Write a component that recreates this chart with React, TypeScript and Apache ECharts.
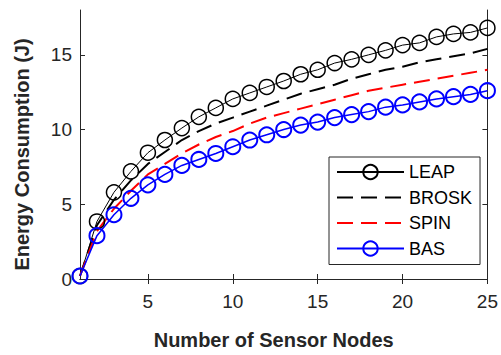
import React, { useEffect, useRef } from "react";
import * as echarts from "echarts";

const nodes = [1, 2, 3, 4, 5, 6, 7, 8, 9, 10, 11, 12, 13, 14, 15, 16, 17, 18, 19, 20, 21, 22, 23, 24, 25];
const leap = [0.2, 3.85, 5.8, 7.2, 8.45, 9.3, 10.1, 10.85, 11.45, 12.05, 12.45, 12.85, 13.25, 13.7, 14.0, 14.45, 14.7, 15.0, 15.3, 15.65, 15.8, 16.2, 16.4, 16.5, 16.8];
const brosk = [0.2, 3.6, 5.3, 6.6, 7.7, 8.5, 9.3, 9.9, 10.4, 10.8, 11.2, 11.6, 12.0, 12.4, 12.7, 13.0, 13.4, 13.7, 14.0, 14.2, 14.5, 14.7, 14.9, 15.1, 15.4];
const spin = [0.2, 3.2, 4.7, 5.9, 7.0, 7.7, 8.4, 9.0, 9.5, 9.9, 10.4, 10.8, 11.1, 11.4, 11.7, 12.0, 12.3, 12.6, 12.8, 13.0, 13.2, 13.4, 13.6, 13.8, 14.0];
const bas = [0.2, 2.9, 4.3, 5.4, 6.3, 7.0, 7.6, 8.0, 8.4, 8.85, 9.3, 9.65, 10.0, 10.3, 10.5, 10.8, 11.0, 11.2, 11.5, 11.65, 11.85, 12.05, 12.2, 12.35, 12.6];
const xTicks = [5, 10, 15, 20, 25];
const yTicks = [0, 5, 10, 15];

const FONT = "Liberation Sans";
const AX = "#262626";

export default function App() {
  const ref = useRef<HTMLDivElement>(null);
  useEffect(() => {
    document.body.style.margin = "0";
    const chart = echarts.init(ref.current!, null, { renderer: "svg" });
    const pair = (ys: number[]) => nodes.map((x, i) => [x, ys[i]]);
    const axisLine = { show: true, lineStyle: { color: AX, width: 1 } };
    const label = { fontFamily: FONT, fontSize: 19, color: AX };
    chart.setOption({
      animation: false,
      grid: { left: 80, right: 12, top: 10, bottom: 76, containLabel: false },
      xAxis: [
        {
          type: "value", min: 1, max: 25, position: "bottom",
          axisLine, splitLine: { show: false },
          axisTick: { show: true, inside: true, length: 5, lineStyle: { color: AX }, customValues: xTicks },
          axisLabel: { ...label, margin: 13, customValues: xTicks },
          name: "Number of Sensor Nodes", nameLocation: "middle", nameGap: 51,
          nameTextStyle: { fontFamily: FONT, fontWeight: "bold", fontSize: 20, color: AX, padding: [0, 20, 0, 0] },
        },
        {
          type: "value", min: 1, max: 25, position: "top",
          axisLine, splitLine: { show: false },
          axisTick: { show: true, inside: true, length: 5, lineStyle: { color: AX }, customValues: xTicks },
          axisLabel: { show: false },
        },
      ],
      yAxis: [
        {
          type: "value", min: 0, max: 18, position: "left",
          axisLine, splitLine: { show: false },
          axisTick: { show: true, inside: true, length: 5, lineStyle: { color: AX }, customValues: yTicks },
          axisLabel: { ...label, margin: 8, customValues: yTicks },
          name: "Energy Consumption (J)", nameLocation: "middle", nameGap: 48,
          nameTextStyle: { fontFamily: FONT, fontWeight: "bold", fontSize: 20, color: AX, padding: [0, 20, 0, 0] },
        },
        {
          type: "value", min: 0, max: 18, position: "right",
          axisLine, splitLine: { show: false },
          axisTick: { show: true, inside: true, length: 5, lineStyle: { color: AX }, customValues: yTicks },
          axisLabel: { show: false },
        },
      ],
      legend: {
        data: [
          { name: "LEAP" },
          { name: "BROSK", itemStyle: { opacity: 0 } },
          { name: "SPIN", itemStyle: { opacity: 0 } },
          { name: "BAS" },
        ],
        orient: "vertical", left: 329, top: 157,
        itemWidth: 67, itemHeight: 18, itemGap: 7.5,
        padding: [6, 8, 7, 7],
        borderColor: AX, borderWidth: 1, borderRadius: 0, backgroundColor: "#fff",
        textStyle: { fontFamily: FONT, fontSize: 18, color: "#000", lineHeight: 18 },
      },
      series: [
        {
          name: "LEAP", type: "line", data: pair(leap),
          symbol: "circle", symbolSize: 15,
          lineStyle: { color: "#000", width: 1 },
          itemStyle: { color: "rgba(0,0,0,0)", borderColor: "#000", borderWidth: 1.5 },
        },
        {
          name: "BROSK", type: "line", data: pair(brosk), showSymbol: false, symbol: "none",
          lineStyle: { color: "#000", width: 2, type: [16, 8] },
          itemStyle: { color: "#000" },
        },
        {
          name: "SPIN", type: "line", data: pair(spin), showSymbol: false, symbol: "none",
          lineStyle: { color: "#ff0000", width: 2, type: [16, 8] },
          itemStyle: { color: "#ff0000" },
        },
        {
          name: "BAS", type: "line", data: pair(bas),
          symbol: "circle", symbolSize: 15,
          lineStyle: { color: "#0000ff", width: 1.5 },
          itemStyle: { color: "rgba(0,0,0,0)", borderColor: "#0000ff", borderWidth: 2 },
        },
      ],
    });
    return () => chart.dispose();
  }, []);
  return <div ref={ref} style={{ width: 501, height: 355 }} />;
}
